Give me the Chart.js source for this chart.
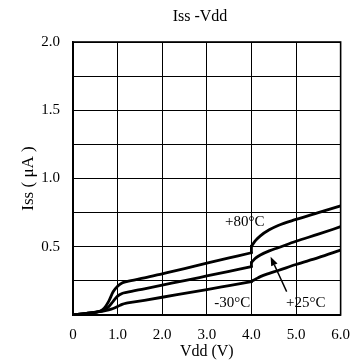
<!DOCTYPE html>
<html><head><meta charset="utf-8">
<script src="https://cdn.jsdelivr.net/npm/chart.js@4"></script>
<style>html,body{margin:0;padding:0;background:#fff}</style>
</head><body>
<canvas id="c" width="361" height="363"></canvas>
<script>
// ---- text ----
const chartTitle = 'Iss -Vdd';
const xAxisTitle = 'Vdd (V)';
const yAxisTitle = 'Iss ( μA )';
const seriesNames = ['+80°C', '+25°C', '-30°C'];

// ---- axis ranges / ticks ----
const xRange = [0, 6];
const xStep = 1;
const yRange = [0, 2];
const yStep = 0.25;
const yLabelStep = 0.5;

// ---- series (Vdd in V, Iss in µA); each curve: part below 4 V and part from 4 V ----
const vdd80Low  = [0, 0.3, 0.6, 0.7, 0.8, 0.9, 1.0, 1.1, 1.2, 1.6, 2.0, 2.5, 3.0, 3.5, 4.0];
const iss80Low  = [0, 0.012, 0.028, 0.05, 0.10, 0.17, 0.21, 0.235, 0.245, 0.272, 0.302, 0.34, 0.38, 0.418, 0.456];
const vdd80High = [4.0, 4.1, 4.2, 4.4, 4.6, 5.0, 5.5, 6.0];
const iss80High = [0.505, 0.548, 0.58, 0.624, 0.656, 0.70, 0.75, 0.80];

const vdd25Low  = [0, 0.3, 0.6, 0.7, 0.8, 0.9, 1.0, 1.1, 1.2, 1.6, 2.0, 2.5, 3.0, 3.5, 4.0];
const iss25Low  = [0, 0.012, 0.026, 0.036, 0.06, 0.10, 0.138, 0.157, 0.165, 0.192, 0.219, 0.252, 0.286, 0.32, 0.354];
const vdd25High = [4.0, 4.1, 4.2, 4.4, 4.6, 5.0, 5.5, 6.0];
const iss25High = [0.385, 0.418, 0.44, 0.47, 0.493, 0.54, 0.592, 0.647];

const vdd30Low  = [0, 0.3, 0.6, 0.7, 0.8, 0.9, 1.0, 1.1, 1.2, 1.3, 1.6, 2.0, 2.5, 3.0, 3.5, 4.0];
const iss30Low  = [0, 0.012, 0.024, 0.03, 0.038, 0.048, 0.062, 0.078, 0.087, 0.092, 0.108, 0.13, 0.158, 0.186, 0.215, 0.244];
const vdd30High = [4.0, 4.1, 4.2, 4.4, 4.6, 5.0, 5.5, 6.0];
const iss30High = [0.246, 0.264, 0.281, 0.305, 0.326, 0.37, 0.42, 0.475];

// ---- annotation anchors (data coords) ----
const label80At = [3.85, 0.683];
const label30At = [3.57, 0.088];
const label25At = [5.22, 0.088];
const arrow25From = [4.79, 0.171];
const arrow25To = [4.43, 0.427];

const FONT = "'Liberation Serif', 'DejaVu Serif', serif";

function pts(xs, ys) { return xs.map((x, i) => ({x: x, y: ys[i]})); }

const smooth = {
  borderColor: '#000', borderWidth: 2.8, pointRadius: 0, fill: false,
  cubicInterpolationMode: 'monotone', borderCapStyle: 'round', borderJoinStyle: 'round'
};
const straight = {
  borderColor: '#000', borderWidth: 2.8, pointRadius: 0, fill: false,
  tension: 0, borderCapStyle: 'round', borderJoinStyle: 'round'
};

function curve(name, xl, yl, xh, yh) {
  return [
    Object.assign({label: name, data: pts(xl, yl)}, smooth),
    Object.assign({label: name, data: [{x: xl[xl.length - 1], y: yl[yl.length - 1]}, {x: xh[0], y: yh[0]}]}, straight),
    Object.assign({label: name, data: pts(xh, yh)}, smooth)
  ];
}

const decor = {
  id: 'decor',
  afterDraw(chart) {
    const {ctx, chartArea: a, scales: {x, y}} = chart;
    ctx.save();
    ctx.strokeStyle = '#000';
    ctx.lineWidth = 1.6;
    ctx.strokeRect(a.left, a.top, a.right - a.left, a.bottom - a.top);
    ctx.fillStyle = '#000';
    ctx.font = '16px ' + FONT;
    ctx.textAlign = 'center';
    ctx.textBaseline = 'middle';
    ctx.fillText(chartTitle, 200, 17);
    ctx.font = '15px ' + FONT;
    const put = (t, p) => ctx.fillText(t, x.getPixelForValue(p[0]), y.getPixelForValue(p[1]));
    put(seriesNames[0], label80At);
    put(seriesNames[2], label30At);
    put(seriesNames[1], label25At);
    const x0 = x.getPixelForValue(arrow25From[0]), y0 = y.getPixelForValue(arrow25From[1]);
    const x1 = x.getPixelForValue(arrow25To[0]), y1 = y.getPixelForValue(arrow25To[1]);
    const ang = Math.atan2(y1 - y0, x1 - x0);
    const L = 9, W = 3.5;
    const bx = x1 - L * Math.cos(ang), by = y1 - L * Math.sin(ang);
    ctx.lineWidth = 1.4;
    ctx.beginPath(); ctx.moveTo(x0, y0); ctx.lineTo(bx, by); ctx.stroke();
    ctx.beginPath();
    ctx.moveTo(x1, y1);
    ctx.lineTo(bx + W * Math.sin(ang), by - W * Math.cos(ang));
    ctx.lineTo(bx - W * Math.sin(ang), by + W * Math.cos(ang));
    ctx.closePath(); ctx.fill();
    ctx.restore();
  }
};

new Chart(document.getElementById('c'), {
  type: 'line',
  data: {
    datasets: [].concat(
      curve(seriesNames[0], vdd80Low, iss80Low, vdd80High, iss80High),
      curve(seriesNames[1], vdd25Low, iss25Low, vdd25High, iss25High),
      curve(seriesNames[2], vdd30Low, iss30Low, vdd30High, iss30High)
    )
  },
  options: {
    responsive: false,
    animation: false,
    layout: {padding: {top: 42, right: 16, bottom: 0, left: 0}},
    plugins: {legend: {display: false}, tooltip: {enabled: false}, title: {display: false}},
    scales: {
      x: {
        type: 'linear', min: xRange[0], max: xRange[1],
        afterFit: s => { s.height = 48; },
        ticks: {stepSize: xStep, padding: 11, color: '#000', font: {family: FONT, size: 15},
          callback: v => v === 0 ? '0' : v.toFixed(1)},
        grid: {color: '#000', lineWidth: 1, drawTicks: false},
        border: {color: '#000', width: 1.6},
        title: {display: true, text: xAxisTitle, color: '#000', font: {family: FONT, size: 16}, padding: {top: 0, bottom: 2}}
      },
      y: {
        type: 'linear', min: yRange[0], max: yRange[1],
        afterFit: s => { s.width = 73; },
        ticks: {stepSize: yStep, padding: 13, color: '#000', font: {family: FONT, size: 15},
          callback: v => (Math.abs(v / yLabelStep - Math.round(v / yLabelStep)) < 1e-9 && v !== 0) ? v.toFixed(1) : ''},
        grid: {color: '#000', lineWidth: 1, drawTicks: false},
        border: {color: '#000', width: 1.6},
        title: {display: true, text: yAxisTitle, color: '#000', font: {family: FONT, size: 17}, padding: {top: 18, bottom: 0}}
      }
    }
  },
  plugins: [decor]
});
</script>
</body></html>
